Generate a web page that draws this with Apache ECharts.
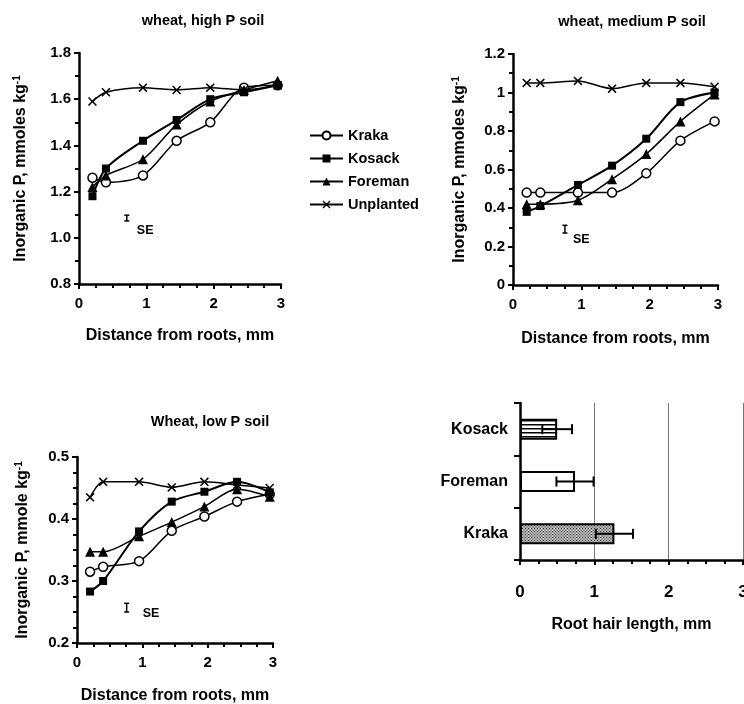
<!DOCTYPE html>
<html>
<head>
<meta charset="utf-8">
<script src="https://cdn.jsdelivr.net/npm/echarts@6/dist/echarts.min.js"></script>
<style>
  html, body { margin: 0; padding: 0; background: #fff; }
  #chart { width: 744px; height: 704px; }
</style>
</head>
<body>
<div id="chart"></div>
<script>
// distance from roots, mm (same sampling for all three soils)
const distance = [0.2, 0.4, 0.95, 1.45, 1.95, 2.45, 2.95]

// wheat, high P soil
const krakaHigh = [1.26, 1.24, 1.27, 1.42, 1.50, 1.65, 1.66]
const kosackHigh = [1.18, 1.30, 1.42, 1.51, 1.60, 1.63, 1.66]
const foremanHigh = [1.22, 1.27, 1.34, 1.49, 1.59, 1.64, 1.68]
const unplantedHigh = [1.59, 1.63, 1.65, 1.64, 1.65, 1.64, 1.66]

// wheat, medium P soil
const krakaMed = [0.48, 0.48, 0.48, 0.48, 0.58, 0.75, 0.85]
const kosackMed = [0.38, 0.41, 0.52, 0.62, 0.76, 0.95, 1.00]
const foremanMed = [0.42, 0.42, 0.44, 0.55, 0.68, 0.85, 0.99]
const unplantedMed = [1.05, 1.05, 1.06, 1.02, 1.05, 1.05, 1.03]

// wheat, low P soil
const krakaLow = [0.315, 0.323, 0.332, 0.381, 0.404, 0.428, 0.440]
const kosackLow = [0.283, 0.300, 0.380, 0.428, 0.444, 0.460, 0.443]
const foremanLow = [0.347, 0.347, 0.372, 0.395, 0.420, 0.448, 0.436]
const unplantedLow = [0.435, 0.460, 0.460, 0.451, 0.460, 0.455, 0.450]

// SE indicator per panel: [x, low, high]
const seHigh = [0.71, 1.073, 1.098]
const seMed = [0.76, 0.27, 0.31]
const seLow = [0.76, 0.250, 0.264]

// root hair length
const cultivars = ['Kraka', 'Foreman', 'Kosack']
const rootHair = [1.27, 0.74, 0.5]
const rootHairErr = [0.25, 0.25, 0.2]

const xTicks = ['0', '1', '2', '3']

const FONT = '"Liberation Sans", Arial, sans-serif'
const chart = echarts.init(document.getElementById('chart'))

const xMark = 'path://M0,1.2L1.2,0L5,3.8L8.8,0L10,1.2L6.2,5L10,8.8L8.8,10L5,6.2L1.2,10L0,8.8L3.8,5Z'

const styles = {
  Kraka: { symbol: 'circle', symbolSize: 9, itemStyle: { color: '#fff', borderColor: '#000', borderWidth: 1.5 }, lineStyle: { color: '#000', width: 1.5 } },
  Kosack: { symbol: 'rect', symbolSize: 8, itemStyle: { color: '#000' }, lineStyle: { color: '#000', width: 2 } },
  Foreman: { symbol: 'triangle', symbolSize: 10, itemStyle: { color: '#000' }, lineStyle: { color: '#000', width: 1.5 } },
  Unplanted: { symbol: xMark, symbolSize: 9, itemStyle: { color: '#000' }, lineStyle: { color: '#000', width: 1.5 } }
}

const lineSeries = (name, values, idx) => ({
  name,
  type: 'line',
  xAxisIndex: idx,
  yAxisIndex: idx,
  smooth: 0.3,
  showAllSymbol: true,
  data: distance.map((d, i) => [d, values[i]]),
  ...styles[name]
})

const seSeries = (se, idx, dx, dy) => ({
  type: 'custom',
  xAxisIndex: idx,
  yAxisIndex: idx,
  silent: true,
  data: [se],
  renderItem: (params, api) => {
    const top = api.coord([api.value(0), api.value(2)])
    const bot = api.coord([api.value(0), api.value(1)])
    const st = { stroke: '#000', lineWidth: 1.5 }
    return {
      type: 'group',
      children: [
        { type: 'line', shape: { x1: top[0], y1: top[1], x2: bot[0], y2: bot[1] }, style: st },
        { type: 'line', shape: { x1: top[0] - 2.5, y1: top[1], x2: top[0] + 2.5, y2: top[1] }, style: st },
        { type: 'line', shape: { x1: bot[0] - 2.5, y1: bot[1], x2: bot[0] + 2.5, y2: bot[1] }, style: st },
        {
          type: 'text',
          x: top[0] + dx,
          y: (top[1] + bot[1]) / 2 + dy,
          style: { text: 'SE', font: 'bold 12.5px ' + FONT, fill: '#000', textAlign: 'left', textVerticalAlign: 'middle' }
        }
      ]
    }
  }
})

const axisLine = { show: true, lineStyle: { color: '#000', width: 2.5 } }
const labelStyle = { color: '#000', fontSize: 15, fontWeight: 'bold', fontFamily: FONT }
const nameStyle = {
  color: '#000', fontSize: 16, fontWeight: 'bold', fontFamily: FONT,
  rich: { sup: { fontSize: 10, fontWeight: 'bold', fontFamily: FONT, verticalAlign: 'top', padding: [0, 0, 7, 0] } }
}

const distAxis = (idx, gap) => ({
  type: 'value',
  gridIndex: idx,
  min: 0,
  max: 3,
  interval: 1,
  name: 'Distance from roots, mm',
  nameLocation: 'middle',
  nameGap: gap,
  nameTextStyle: nameStyle,
  axisLine,
  axisTick: { show: true, length: 5, lineStyle: { color: '#000', width: 2 } },
  minorTick: { show: true, splitNumber: 4, length: 4, lineStyle: { color: '#000', width: 2 } },
  axisLabel: { ...labelStyle, margin: 12, formatter: v => xTicks[v] },
  splitLine: { show: false }
})

const pAxis = (idx, min, max, interval, minor, unit, gap, fmt) => ({
  type: 'value',
  gridIndex: idx,
  min,
  max,
  interval,
  name: 'Inorganic P, ' + unit + ' kg{sup|-1}',
  nameLocation: 'middle',
  nameGap: gap,
  nameTextStyle: nameStyle,
  axisLine,
  axisTick: { show: true, length: 5, lineStyle: { color: '#000', width: 2 } },
  minorTick: { show: true, splitNumber: minor, length: 4, lineStyle: { color: '#000', width: 2 } },
  axisLabel: { ...labelStyle, margin: 8, formatter: fmt },
  splitLine: { show: false }
})

// bar fill patterns
const makePattern = (w, h, draw) => {
  const c = document.createElement('canvas')
  c.width = w
  c.height = h
  draw(c.getContext('2d'))
  return { image: c, repeat: 'repeat' }
}
const stripes = makePattern(4, 4, ctx => {
  ctx.fillStyle = '#fff'
  ctx.fillRect(0, 0, 4, 4)
  ctx.fillStyle = '#000'
  ctx.fillRect(0, 0, 4, 1.5)
})
const speckle = makePattern(3, 3, ctx => {
  ctx.fillStyle = '#b4b4b4'
  ctx.fillRect(0, 0, 3, 3)
  ctx.fillStyle = '#444'
  ctx.fillRect(0, 0, 1, 1)
  ctx.fillRect(1.5, 1.5, 1, 1)
})
const barFills = { Kraka: speckle, Foreman: '#fff', Kosack: stripes }

const titleFont = 'bold 14.5px ' + FONT

const option = {
  animation: false,
  backgroundColor: '#fff',
  textStyle: { fontFamily: FONT },
  graphic: [
    { type: 'text', x: 203, y: 21, style: { text: 'wheat, high P soil', font: titleFont, fill: '#000', textAlign: 'center', textVerticalAlign: 'middle' } },
    { type: 'text', x: 632, y: 22, style: { text: 'wheat, medium P soil', font: titleFont, fill: '#000', textAlign: 'center', textVerticalAlign: 'middle' } },
    { type: 'text', x: 210, y: 422, style: { text: 'Wheat, low P soil', font: titleFont, fill: '#000', textAlign: 'center', textVerticalAlign: 'middle' } }
  ],
  legend: {
    data: ['Kraka', 'Kosack', 'Foreman', 'Unplanted'],
    orient: 'vertical',
    left: 309,
    top: 128,
    padding: 0,
    itemWidth: 33,
    itemHeight: 10,
    itemGap: 8,
    textStyle: { color: '#000', fontSize: 14.5, fontWeight: 'bold', fontFamily: FONT }
  },
  grid: [
    { left: 79, top: 53, width: 202, height: 231, outerBoundsMode: 'none' },
    { left: 513, top: 54, width: 205, height: 231, outerBoundsMode: 'none' },
    { left: 77, top: 457, width: 196, height: 186, outerBoundsMode: 'none' },
    { left: 520, top: 403, width: 223, height: 157, outerBoundsMode: 'none' }
  ],
  xAxis: [
    distAxis(0, 44),
    distAxis(1, 46),
    distAxis(2, 45),
    {
      type: 'value',
      gridIndex: 3,
      min: 0,
      max: 3,
      interval: 1,
      name: 'Root hair length, mm',
      nameLocation: 'middle',
      nameGap: 57,
      nameTextStyle: nameStyle,
      axisLine,
      axisTick: { show: true, length: 5, lineStyle: { color: '#000', width: 2 } },
      minorTick: { show: true, splitNumber: 4, length: 4, lineStyle: { color: '#000', width: 2 } },
      axisLabel: { ...labelStyle, fontSize: 17, margin: 24, formatter: v => xTicks[v] },
      splitLine: { show: true, lineStyle: { color: '#777', width: 1 } }
    }
  ],
  yAxis: [
    pAxis(0, 0.8, 1.8, 0.2, 2, 'mmoles', 50, v => v.toFixed(1)),
    pAxis(1, 0, 1.2, 0.2, 2, 'mmoles', 45),
    pAxis(2, 0.2, 0.5, 0.1, 4, 'mmole', 46, v => v.toFixed(1)),
    {
      type: 'category',
      gridIndex: 3,
      data: cultivars,
      axisLine,
      axisTick: { show: true, length: 6, lineStyle: { color: '#000', width: 2 } },
      axisLabel: { ...labelStyle, fontSize: 16, margin: 12 }
    }
  ],
  series: [
    lineSeries('Kraka', krakaHigh, 0),
    lineSeries('Kosack', kosackHigh, 0),
    lineSeries('Foreman', foremanHigh, 0),
    lineSeries('Unplanted', unplantedHigh, 0),
    seSeries(seHigh, 0, 10, 12),
    lineSeries('Kraka', krakaMed, 1),
    lineSeries('Kosack', kosackMed, 1),
    lineSeries('Foreman', foremanMed, 1),
    lineSeries('Unplanted', unplantedMed, 1),
    seSeries(seMed, 1, 8, 10),
    lineSeries('Kraka', krakaLow, 2),
    lineSeries('Kosack', kosackLow, 2),
    lineSeries('Foreman', foremanLow, 2),
    lineSeries('Unplanted', unplantedLow, 2),
    seSeries(seLow, 2, 16, 6),
    {
      name: 'Root hair',
      type: 'bar',
      xAxisIndex: 3,
      yAxisIndex: 3,
      barWidth: 21,
      data: rootHair.map((v, i) => ({
        value: v,
        itemStyle: { color: barFills[cultivars[i]], borderColor: '#000', borderWidth: 2 }
      }))
    },
    {
      name: 'Root hair error',
      type: 'custom',
      xAxisIndex: 3,
      yAxisIndex: 3,
      silent: true,
      z: 5,
      data: rootHair.map((v, i) => [v - rootHairErr[i], v + rootHairErr[i], i]),
      renderItem: (params, api) => {
        const lo = api.coord([api.value(0), api.value(2)])
        const hi = api.coord([api.value(1), api.value(2)])
        const st = { stroke: '#000', lineWidth: 2 }
        return {
          type: 'group',
          children: [
            { type: 'line', shape: { x1: lo[0], y1: lo[1], x2: hi[0], y2: hi[1] }, style: st },
            { type: 'line', shape: { x1: lo[0], y1: lo[1] - 5, x2: lo[0], y2: lo[1] + 5 }, style: st },
            { type: 'line', shape: { x1: hi[0], y1: hi[1] - 5, x2: hi[0], y2: hi[1] + 5 }, style: st }
          ]
        }
      }
    }
  ]
}

chart.setOption(option)
</script>
</body>
</html>
